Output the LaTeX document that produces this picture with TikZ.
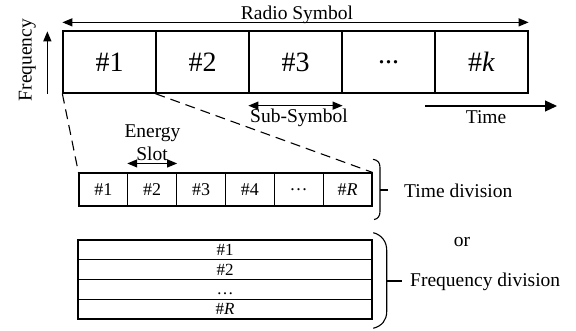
\documentclass[tikz,border=0pt]{standalone}
\usepackage{fontspec}
\setmainfont{Liberation Serif}
\usetikzlibrary{arrows.meta}
\begin{document}
\begin{tikzpicture}[x=1pt,y=-1pt,
  big/.style={draw,line width=1.3pt,minimum width=93pt,minimum height=62pt,inner sep=0pt,font=\fontsize{28}{30}\selectfont},
  slot/.style={draw,line width=1.1pt,minimum width=48.83pt,minimum height=33pt,inner sep=0pt,font=\fontsize{18}{20}\selectfont},
  band/.style={draw,line width=1.1pt,minimum width=294pt,minimum height=19.75pt,inner sep=0pt,text height=11.5pt,text depth=0.5pt,font=\fontsize{17}{18}\selectfont},
  lbl/.style={font=\fontsize{19.5}{22}\selectfont,inner sep=0pt},
  arr/.style={line width=1.2pt,-{Triangle[length=10pt,width=8pt]}},
  darr/.style={line width=1.2pt,{Triangle[length=10pt,width=8pt]}-{Triangle[length=10pt,width=8pt]}},
  dash line/.style={line width=1.1pt,dash pattern=on 10pt off 6pt},
  bracket/.style={line width=1.1pt}
]
\useasboundingbox (0,0) rectangle (576,330);

% radio symbol split into sub-symbols
\node[big] (s1) at (109.5,62) {\#1};
\node[big] (s2) at (202.5,62) {\#2};
\node[big] (s3) at (295.5,62) {\#3};
\node[big] (s4) at (388.5,62) {...};
\node[big] (s5) at (481.5,62) {\#\textit{k}};

% energy slots, time division
\node[slot] (e1) at (103.4,189.5) {\#1};
\node[slot] (e2) at (152.2,189.5) {\#2};
\node[slot] (e3) at (201.1,189.5) {\#3};
\node[slot] (e4) at (249.9,189.5) {\#4};
\node[slot] (e5) at (298.7,189.5) {\ldots};
\node[slot] (e6) at (347.6,189.5) {\#\textit{R}};

% energy slots, frequency division
\node[band] (f1) at (225,249.875) {\#1};
\node[band] (f2) at (225,269.625) {\#2};
\node[band] (f3) at (225,289.375) {\ldots};
\node[band] (f4) at (225,309.125) {\#\textit{R}};

% axes and spans
\draw[darr] ([yshift=8pt]s1.north west) -- ([yshift=8pt]s5.north east);
\node[lbl,anchor=base] (rs) at (297,19.5) {Radio Symbol};

\draw[arr] ([xshift=-15pt]s1.south west) -- ([xshift=-15pt,yshift=-1pt]s1.north west);
\node[lbl,rotate=90,anchor=base] (fq) at (31.5,60) {Frequency};

\draw[darr] ([yshift=-12pt]s3.south west) -- ([yshift=-12pt]s3.south east);
\node[lbl,anchor=base] (ss) at (299,122.5) {Sub-Symbol};

\coordinate (t0) at (425,106);
\coordinate (t1) at (557,106);
\draw[line width=1.2pt,-{Triangle[length=12pt,width=11pt]}] (t0) -- (t1);
\node[lbl,anchor=base] (tm) at (486,123) {Time};

% zoom from the first sub-symbol
\draw[dash line] (s1.south west) -- (e1.north west);
\draw[dash line] (s2.south west) -- (e6.north east);

\draw[darr] ([yshift=9pt]e2.north west) -- ([yshift=9pt]e2.north east);
\node[lbl,anchor=base] (en) at (152.5,137.3) {Energy};
\node[lbl,anchor=base] (sl) at (152,160.7) {Slot};

% brackets
\draw[bracket] (373,159.3) .. controls (378,160) and (380,163) .. (380,167.5) -- (380,211.5) .. controls (380,216) and (378,219) .. (374,219.5);
\coordinate (b1) at (380,190);
\coordinate (b1t) at (388.3,190);
\draw[bracket] (b1) -- (b1t);
\node[lbl,anchor=base west] (td) at (404,197.3) {Time division};

\node[lbl,anchor=base] (or) at (462,246) {or};

\draw[bracket] (373.3,232.7) .. controls (382,235) and (386.7,242) .. (386.7,250) -- (386.7,311.7) .. controls (386.7,320) and (382,326) .. (373.3,328.3);
\coordinate (b2) at (386.7,281);
\coordinate (b2t) at (401.7,281);
\draw[bracket] (b2) -- (b2t);
\node[lbl,anchor=base west] (fd) at (410,286.7) {Frequency division};
\end{tikzpicture}
\end{document}
